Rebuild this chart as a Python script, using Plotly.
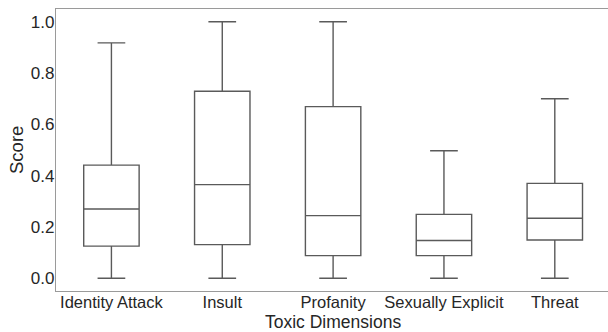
import plotly.graph_objects as go

categories = ["Identity Attack", "Insult", "Profanity", "Sexually Explicit", "Threat"]
lower = [0.0, 0.0, 0.0, 0.0, 0.0]
q1 = [0.125, 0.131, 0.088, 0.088, 0.149]
median = [0.270, 0.365, 0.244, 0.147, 0.234]
q3 = [0.441, 0.729, 0.669, 0.249, 0.370]
upper = [0.918, 1.0, 1.0, 0.497, 0.700]
y_ticks = [0.0, 0.2, 0.4, 0.6, 0.8, 1.0]

FONT = "Liberation Sans, Arial, sans-serif"
LINE = "#5a5a5a"
AXIS = "#9a9a9a"
TEXT = "#262626"

PLOT_H = 332 - 9 - 41

fig = go.Figure()
fig.add_trace(go.Box(
    x=categories,
    q1=q1, median=median, q3=q3,
    lowerfence=lower, upperfence=upper,
    fillcolor="white",
    line=dict(color=LINE, width=1.4),
    whiskerwidth=0.5,
    width=0.5,
    boxpoints=False,
    showlegend=False,
    hoverinfo="skip",
))

fig.update_layout(
    width=608, height=332,
    margin=dict(l=56, r=0, t=9, b=41),
    paper_bgcolor="white", plot_bgcolor="white",
    font=dict(family=FONT, size=17, color=TEXT),
    annotations=[
        dict(text="Toxic Dimensions", xref="paper", yref="paper",
             x=(333 - 56) / 552, y=-41 / PLOT_H, xanchor="center", yanchor="bottom",
             yshift=-1, borderpad=0,
             showarrow=False, font=dict(size=17.5, color=TEXT)),
        dict(text="Score", xref="paper", yref="paper",
             x=(16 - 56) / 552, y=0.5, xanchor="center", yanchor="middle",
             textangle=-90, showarrow=False, font=dict(size=18.5, color=TEXT)),
    ],
)
fig.update_xaxes(
    type="category",
    range=[-0.5, 4.48],
    showline=True, mirror=True, linecolor=AXIS, linewidth=1.3,
    showgrid=False, zeroline=False, ticks="",
    tickfont=dict(size=16.5),
    ticklabelstandoff=-4,
)
fig.update_yaxes(
    range=[-0.05, 1.05],
    tickvals=y_ticks, ticktext=[f"{v:.1f}" for v in y_ticks],
    showline=True, mirror=False, linecolor=AXIS, linewidth=1.3,
    showgrid=False, zeroline=False, ticks="",
    tickfont=dict(size=17),
    ticklabelstandoff=-3,
)

fig.write_html("out.html")
